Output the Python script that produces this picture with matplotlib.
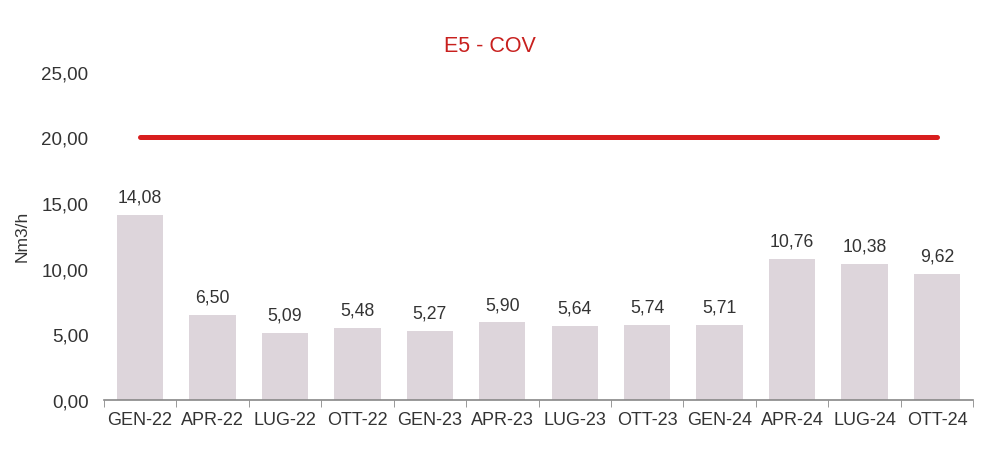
#!/usr/bin/env python3
"""E5 - COV bar chart with 20 Nm3/h limit line."""
import matplotlib
matplotlib.use("Agg")
import matplotlib.pyplot as plt
from matplotlib.ticker import FuncFormatter, FixedLocator

periods = ["GEN-22", "APR-22", "LUG-22", "OTT-22", "GEN-23", "APR-23",
           "LUG-23", "OTT-23", "GEN-24", "APR-24", "LUG-24", "OTT-24"]
values = [14.08, 6.50, 5.09, 5.48, 5.27, 5.90, 5.64, 5.74, 5.71, 10.76, 10.38, 9.62]
limit = [20.0] * len(periods)
y_ticks = [0, 5, 10, 15, 20, 25]

plt.rcParams["font.family"] = ["Liberation Sans", "DejaVu Sans"]

fig = plt.figure(figsize=(9.89, 4.64), dpi=100)
ax = fig.add_axes((0.105, 0.136, 0.879, 0.707))

x = list(range(len(periods)))
ax.bar(x, values, width=0.64, color="#ddd5db", edgecolor="none", zorder=2)
ax.plot(x, limit, color="#d81e1e", linewidth=3.6, solid_capstyle="round", zorder=3)

for xi, v in zip(x, values):
    ax.text(xi, v + 0.7, f"{v:.2f}".replace(".", ","), ha="center", va="bottom",
            fontsize=12.7, color="#333333")

ax.set_xlim(-0.5, len(periods) - 0.5)
ax.set_ylim(0, 25)
ax.yaxis.set_major_locator(FixedLocator(y_ticks))
ax.yaxis.set_major_formatter(FuncFormatter(lambda v, _: f"{v:.2f}".replace(".", ",")))
ax.set_xticks(x)
ax.set_xticklabels(periods)
ax.xaxis.set_minor_locator(FixedLocator([i - 0.5 for i in range(len(periods) + 1)]))
ax.tick_params(axis="x", which="major", length=0, pad=8, labelsize=13, labelcolor="#333333")
ax.tick_params(axis="x", which="minor", length=5, color="#888888", direction="out")
ax.tick_params(axis="y", length=0, pad=11, labelsize=13.5, labelcolor="#333333")

for side in ("top", "right", "left"):
    ax.spines[side].set_visible(False)
ax.spines["bottom"].set_color("#888888")
ax.spines["bottom"].set_linewidth(1.2)

ax.set_ylabel("Nm3/h", fontsize=12.5, color="#333333")
ax.yaxis.set_label_coords(-0.085, 0.5)
fig.text(0.495, 0.9, "E5 - COV", ha="center", va="center", fontsize=15.5, color="#c8201e")

fig.savefig("out.png", dpi=100)
